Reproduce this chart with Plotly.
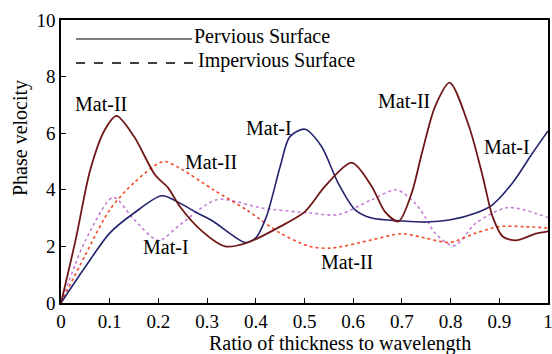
import plotly.graph_objects as go

# Mat-I, pervious surface (solid navy)
x_m1_perv = [0, 0.05, 0.1, 0.15, 0.207, 0.244, 0.28, 0.313, 0.345, 0.378, 0.40, 0.422, 0.45, 0.47, 0.501,
             0.535, 0.569, 0.604, 0.638, 0.7, 0.75, 0.8, 0.852, 0.886, 0.927, 0.968, 1.0]
y_m1_perv = [0, 1.28, 2.47, 3.18, 3.79, 3.53, 3.18, 2.88, 2.48, 2.14, 2.3, 3.06, 4.82, 5.88, 6.14,
             5.53, 4.24, 3.29, 3.0, 2.9, 2.86, 2.94, 3.18, 3.47, 4.24, 5.29, 6.08]

# Mat-II, pervious surface (solid maroon)
x_m2_perv = [0, 0.03, 0.06, 0.09, 0.114, 0.15, 0.193, 0.22, 0.244, 0.29, 0.337, 0.381, 0.45, 0.501, 0.542,
             0.597, 0.638, 0.665, 0.693, 0.72, 0.741, 0.768, 0.798, 0.838, 0.866, 0.886, 0.907, 0.934, 0.975, 1.0]
y_m2_perv = [0, 2.23, 4.7, 6.12, 6.61, 5.88, 4.53, 4.07, 3.41, 2.53, 2.0, 2.12, 2.7, 3.23, 4.12,
             4.96, 4.12, 3.23, 2.88, 3.88, 5.29, 6.94, 7.79, 6.23, 4.47, 3.06, 2.35, 2.21, 2.45, 2.53]

# Mat-II, impervious surface (dotted red)
x_m2_imp = [0, 0.05, 0.1, 0.15, 0.21, 0.244, 0.313, 0.381, 0.45, 0.511, 0.556, 0.638, 0.7, 0.749, 0.798,
            0.852, 0.9, 0.95, 1.0]
y_m2_imp = [0, 1.7, 3.29, 4.25, 5.0, 4.76, 4.0, 3.29, 2.47, 2.0, 1.94, 2.23, 2.45, 2.29, 2.14,
            2.47, 2.7, 2.7, 2.65]

# Mat-I, impervious surface (dotted purple)
x_m1_imp = [0, 0.03, 0.05, 0.107, 0.15, 0.2, 0.244, 0.32, 0.415, 0.511, 0.569, 0.638, 0.689, 0.727, 0.749,
            0.768, 0.807, 0.852, 0.917, 1.0]
y_m1_imp = [0, 1.4, 2.2, 3.73, 2.95, 2.21, 2.76, 3.65, 3.35, 3.18, 3.12, 3.65, 4.0, 3.53, 3.0,
            2.47, 2.02, 2.82, 3.37, 3.02]

x_ticks = [0, 0.1, 0.2, 0.3, 0.4, 0.5, 0.6, 0.7, 0.8, 0.9, 1]
x_tick_text = ["0", "0.1", "0.2", "0.3", "0.4", "0.5", "0.6", "0.7", "0.8", "0.9", "1"]
y_ticks = [0, 2, 4, 6, 8, 10]

labels = ["Mat-II", "Mat-II", "Mat-I", "Mat-I", "Mat-II", "Mat-II", "Mat-I"]
label_x = [0.082, 0.308, 0.216, 0.427, 0.705, 0.588, 0.915]
label_y = [7.03, 4.99, 1.99, 6.19, 7.14, 1.46, 5.51]

FONT = "Liberation Serif"
NAVY = "#23236e"
MAROON = "#701818"
RED = "#f24a2a"
PURPLE = "#c37ed3"

fig = go.Figure()
fig.add_trace(go.Scatter(x=x_m1_imp, y=y_m1_imp, mode="lines",
                         line=dict(color=PURPLE, width=1.6, dash="dot", shape="spline", smoothing=0.8)))
fig.add_trace(go.Scatter(x=x_m2_imp, y=y_m2_imp, mode="lines",
                         line=dict(color=RED, width=1.6, dash="dot", shape="spline", smoothing=0.8)))
fig.add_trace(go.Scatter(x=x_m1_perv, y=y_m1_perv, mode="lines",
                         line=dict(color=NAVY, width=1.6, shape="spline", smoothing=0.8)))
fig.add_trace(go.Scatter(x=x_m2_perv, y=y_m2_perv, mode="lines",
                         line=dict(color=MAROON, width=1.8, shape="spline", smoothing=0.8)))

for t, lx, ly in zip(labels, label_x, label_y):
    fig.add_annotation(x=lx, y=ly, text=t, showarrow=False, xref="x", yref="y",
                       font=dict(family=FONT, size=20, color="black"))

# Legend (lines + text)
fig.add_shape(type="line", xref="paper", yref="paper", x0=15/487, x1=131/487,
              y0=1 - 19/283, y1=1 - 19/283, line=dict(color="black", width=1))
fig.add_shape(type="line", xref="paper", yref="paper", x0=15/487, x1=134/487,
              y0=1 - 43/283, y1=1 - 43/283, line=dict(color="black", width=1.3, dash="dash"))
fig.add_annotation(xref="paper", yref="paper", x=131/487, y=1 - 16/283, xanchor="left", yanchor="middle",
                   text="Pervious Surface", showarrow=False, font=dict(family=FONT, size=20, color="black"))
fig.add_annotation(xref="paper", yref="paper", x=135/487, y=1 - 40/283, xanchor="left", yanchor="middle",
                   text="Impervious Surface", showarrow=False, font=dict(family=FONT, size=20, color="black"))

# axis titles
fig.add_annotation(xref="paper", yref="paper", x=(340 - 61)/487, y=-(343 - 303)/283, xanchor="center",
                   yanchor="middle", text="Ratio of thickness to wavelength", showarrow=False,
                   font=dict(family=FONT, size=20, color="black"))
fig.add_annotation(xref="paper", yref="paper", x=-(61 - 20)/487, y=(303 - 138)/283, xanchor="center",
                   yanchor="middle", text="Phase velocity", textangle=-90, showarrow=False,
                   font=dict(family=FONT, size=20, color="black"))

fig.update_layout(
    width=552, height=354,
    margin=dict(l=61, r=4, t=20, b=51, autoexpand=False),
    paper_bgcolor="white", plot_bgcolor="white",
    showlegend=False,
    font=dict(family=FONT, size=19, color="black"),
)
fig.update_xaxes(range=[0, 1], tickvals=x_ticks, ticktext=x_tick_text, ticks="inside", ticklen=5,
                 tickcolor="black", showgrid=False, zeroline=False, showline=True, linecolor="black",
                 linewidth=1.5, mirror=True, tickfont=dict(family=FONT, size=19), automargin=False,
                 ticklabeloverflow="allow")
fig.update_yaxes(range=[0, 10], tickvals=y_ticks, ticks="inside", ticklen=5, tickcolor="black",
                 showgrid=False, zeroline=False, showline=True, linecolor="black", linewidth=1.5,
                 mirror=True, tickfont=dict(family=FONT, size=19), automargin=False)

fig.write_html("out.html")
